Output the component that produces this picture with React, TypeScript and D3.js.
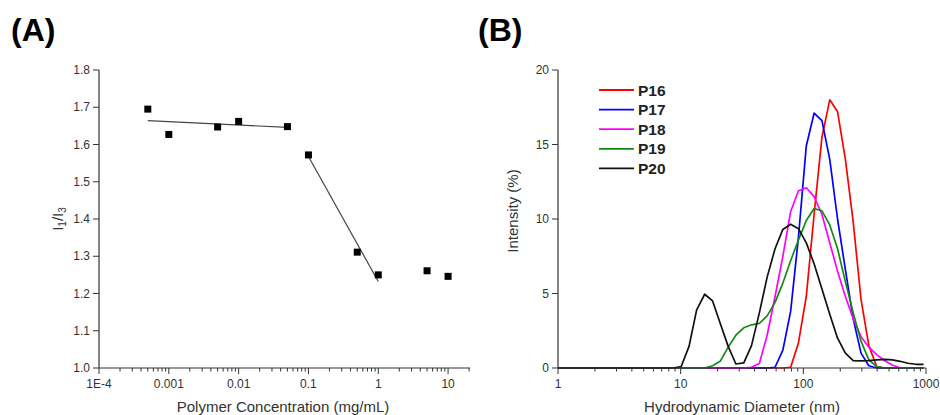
import React from 'react';
import { scaleLog, scaleLinear, line } from 'd3';

// (A) pyrene I1/I3 vs polymer concentration
const concentration = [0.0005, 0.001, 0.005, 0.01, 0.05, 0.1, 0.5, 1, 5, 10];
const ratio = [1.695, 1.627, 1.647, 1.662, 1.648, 1.572, 1.311, 1.25, 1.261, 1.246];
const fitLow = [[0.0005, 1.664], [0.05, 1.646]];
const fitHigh = [[0.1, 1.568], [1, 1.232]];
const ratioTicks = [1.0, 1.1, 1.2, 1.3, 1.4, 1.5, 1.6, 1.7, 1.8];
const concTickLabels = ['1E-4', '0.001', '0.01', '0.1', '1', '10'];

// (B) DLS size distributions
const sizes = [1, 8.721, 10.1, 11.7, 13.5, 15.7, 18.2, 21.0, 24.4, 28.2, 32.7, 37.8, 43.8, 50.7,
  58.8, 68.1, 78.8, 91.3, 105.7, 122.4, 141.8, 164.2, 190.1, 220.2, 255.0, 295.3, 342.0,
  396.1, 458.7, 531.2, 615.1, 712.4, 825.0, 955.4];
const p16 = [0, 0, 0, 0, 0, 0, 0, 0, 0, 0, 0, 0, 0, 0,
  0, 0, 0.05, 1.7, 4.8, 10.3, 15.5, 18.0, 17.2, 14.0, 9.8, 4.6, 1.5,
  0.1, 0, 0, 0, 0, 0, 0];
const p17 = [0, 0, 0, 0, 0, 0, 0, 0, 0, 0, 0, 0, 0, 0,
  0.05, 1.2, 3.8, 8.8, 14.9, 17.1, 16.6, 14.0, 10.0, 6.6, 3.3, 1.0, 0.15,
  0, 0, 0, 0, 0, 0, 0];
const p18 = [0, 0, 0, 0, 0, 0, 0, 0, 0, 0, 0, 0.05, 0.3, 2.2,
  4.8, 7.5, 10.5, 11.9, 12.1, 11.5, 10.3, 8.4, 6.5, 4.8, 3.3, 2.1, 1.4,
  0.9, 0.5, 0.2, 0, 0, 0, 0];
const p19 = [0, 0, 0, 0, 0, 0, 0.15, 0.45, 1.4, 2.2, 2.7, 2.9, 3.0, 3.5,
  4.4, 5.7, 7.2, 8.6, 9.9, 10.7, 10.55, 9.6, 8.0, 5.8, 3.7, 1.8, 0.55,
  0.1, 0, 0, 0, 0, 0, 0];
const p20 = [0, 0, 0.1, 1.45, 3.9, 4.95, 4.5, 3.0, 1.45, 0.27, 0.35, 1.5, 3.7, 6.1,
  8.0, 9.3, 9.65, 9.35, 8.4, 7.0, 5.3, 3.6, 2.0, 1.0, 0.5, 0.48, 0.5,
  0.55, 0.58, 0.55, 0.45, 0.32, 0.25, 0.25];
const seriesNames = ['P16', 'P17', 'P18', 'P19', 'P20'];
const seriesValues = [p16, p17, p18, p19, p20];
const seriesColors = ['#ff0000', '#0000ff', '#ff00ff', '#138a13', '#111111'];
const intensityTicks = [0, 5, 10, 15, 20];
const sizeTickLabels = ['1', '10', '100', '1000'];

const font = '"Liberation Sans", Arial, sans-serif';
const axisColor = '#333';

const isDecade = (v: number) => Math.abs(Math.log10(v) - Math.round(Math.log10(v))) < 1e-6;

const LogXAxis = ({ x, y, labels }: any) => (
  <g>
    <line x1={x.range()[0]} x2={x.range()[1]} y1={y} y2={y} stroke={axisColor} strokeWidth={1.2} />
    {x.ticks().map((t: number, i: number) => (
      <line key={i} x1={x(t)} x2={x(t)} y1={y} y2={y + (isDecade(t) ? 6 : 3.5)} stroke={axisColor} strokeWidth={1} />
    ))}
    {x.ticks().filter(isDecade).map((t: number, i: number) => (
      <text key={'l' + i} x={x(t)} y={y + 20} textAnchor="middle" fontSize={12} fill={axisColor}>
        {labels[i]}
      </text>
    ))}
  </g>
);

const LinYAxis = ({ y, x, ticks, fmt }: any) => (
  <g>
    <line x1={x} x2={x} y1={y.range()[0]} y2={y.range()[1]} stroke={axisColor} strokeWidth={1.2} />
    {ticks.map((t: number, i: number) => (
      <g key={i}>
        <line x1={x - 6} x2={x} y1={y(t)} y2={y(t)} stroke={axisColor} strokeWidth={1} />
        <text x={x - 9} y={y(t)} dy="0.35em" textAnchor="end" fontSize={12} fill={axisColor}>
          {fmt(t)}
        </text>
      </g>
    ))}
  </g>
);

export default function App() {
  // panel A scales
  const xA = scaleLog().domain([1e-4, 20.6]).range([99, 470]);
  const yA = scaleLinear().domain([1.0, 1.8]).range([368, 70]);
  // panel B scales
  const xB = scaleLog().domain([1, 1000]).range([558, 926]);
  const yB = scaleLinear().domain([0, 20]).range([368, 70]);

  const fitLine = line<number[]>().x(d => xA(d[0])).y(d => yA(d[1]));
  const dlsLine = line<number>().x((d, i) => xB(sizes[i])).y(d => yB(d));

  return (
    <div style={{ position: 'absolute', left: 0, top: 0 }}>
      <svg width={940} height={415} style={{ display: 'block', fontFamily: font }}>
        <rect width={940} height={415} fill="#fff" />

        {/* Panel A */}
        <text x={11} y={41} fontSize={32} fontWeight="bold" fill="#000">(A)</text>
        <LinYAxis y={yA} x={99} ticks={ratioTicks} fmt={(t: number) => t.toFixed(1)} />
        <LogXAxis x={xA} y={368} labels={concTickLabels} />
        <path d={fitLine(fitLow) || ''} fill="none" stroke="#444" strokeWidth={1.2} />
        <path d={fitLine(fitHigh) || ''} fill="none" stroke="#444" strokeWidth={1.2} />
        {concentration.map((c, i) => (
          <rect key={i} x={xA(c) - 3.5} y={yA(ratio[i]) - 3.5} width={7} height={7} fill="#000" />
        ))}
        <text x={283} y={412} textAnchor="middle" fontSize={15} fill={axisColor}>
          Polymer Concentration (mg/mL)
        </text>
        <text transform="translate(63,219) rotate(-90)" textAnchor="middle" fontSize={15} fill={axisColor}>
          I<tspan fontSize={10} dy={3}>1</tspan><tspan dy={-3}>/I</tspan><tspan fontSize={10} dy={3}>3</tspan>
        </text>

        {/* Panel B */}
        <text x={478} y={41} fontSize={32} fontWeight="bold" fill="#000">(B)</text>
        {seriesValues.map((vals, k) => (
          <path key={k} d={dlsLine(vals) || ''} fill="none" stroke={seriesColors[k]} strokeWidth={1.7}
            strokeLinejoin="round" />
        ))}
        <LinYAxis y={yB} x={558} ticks={intensityTicks} fmt={(t: number) => String(t)} />
        <LogXAxis x={xB} y={368} labels={sizeTickLabels} />
        <text x={742} y={412} textAnchor="middle" fontSize={15} fill={axisColor}>
          Hydrodynamic Diameter (nm)
        </text>
        <text transform="translate(518,211) rotate(-90)" textAnchor="middle" fontSize={15} fill={axisColor}>
          Intensity (%)
        </text>
        {seriesNames.map((n, k) => (
          <g key={n} transform={`translate(599, ${90 + k * 19.6})`}>
            <line x1={0} x2={35} y1={0} y2={0} stroke={seriesColors[k]} strokeWidth={1.8} />
            <text x={39} y={0} dy="0.36em" fontSize={15.5} fontWeight="bold" fill="#222">{n}</text>
          </g>
        ))}
      </svg>
    </div>
  );
}
